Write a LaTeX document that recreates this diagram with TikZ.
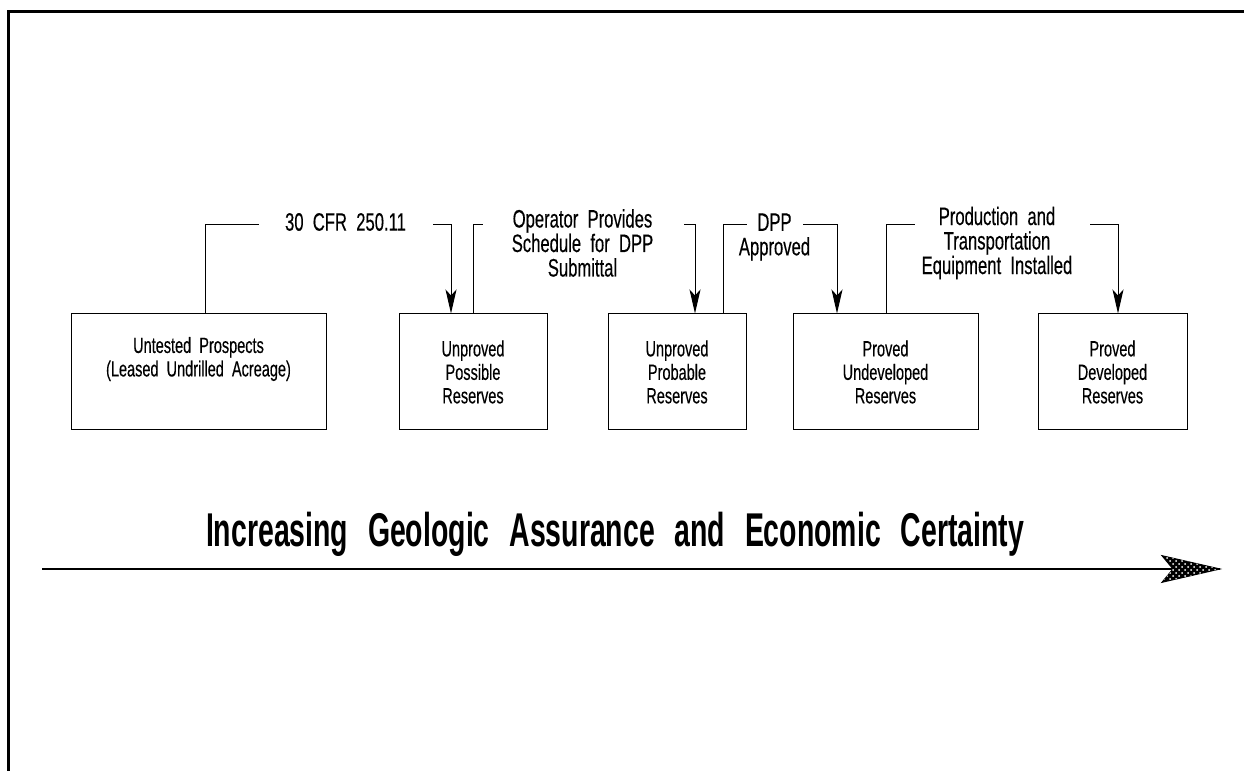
\documentclass[tikz,border=0pt]{standalone}
\usepackage{fontspec}
\setmainfont{Liberation Sans}[FakeStretch=0.66, WordSpace=2, FakeBold=0.3]
\newfontfamily\headfont{Liberation Sans}[FakeStretch=0.6, WordSpace=2.5]
\usetikzlibrary{arrows.meta, patterns}

\begin{document}
\begin{tikzpicture}[x = 50pt, y = 50pt,
	resbox/.style = {draw, line width = 0.5pt, minimum height = 58pt, inner sep = 0pt, align = center, font = \fontsize{11}{11.75}\selectfont},
	lbl/.style = {align = center, inner sep = 0pt, font = \fontsize{12.6}{12.25}\selectfont},
	flow/.style = {line width = 0.5pt, -{Stealth[length = 12pt, width = 5.5pt, inset = 3pt]}}]
		\useasboundingbox (0, 0) rectangle (12.44, 7.71);
		\draw [line width = 1.5pt] (0.085, 0) -- (0.085, 7.595) -- (12.44, 7.595);
		%%%%%%%%%%%%%
		\node [resbox, minimum width = 127.5pt] (untested) at (1.985, 3.99) {Untested Prospects\\(Leased Undrilled Acreage)\\ \strut};
		\node [resbox, minimum width = 74pt] (possible) at (4.73, 3.99) {Unproved\\Possible\\Reserves};
		\node [resbox, minimum width = 69pt] (probable) at (6.77, 3.99) {Unproved\\Probable\\Reserves};
		\node [resbox, minimum width = 92.5pt] (undev) at (8.855, 3.99) {Proved\\Undeveloped\\Reserves};
		\node [resbox, minimum width = 74.5pt] (dev) at (11.125, 3.99) {Proved\\Developed\\Reserves};
		%%%%%%%%%%%%%
		\node [lbl] (cfr) at (3.455, 5.49) {30 CFR 250.11};
		\node [lbl] (schedule) at (5.825, 5.28) {Operator Provides\\Schedule for DPP\\Submittal};
		\node [lbl] (approved) at (7.745, 5.34) {DPP\\Approved};
		\node [lbl] (installed) at (9.97, 5.28) {Production and\\Transportation\\Equipment Installed};
		%%%%%%%%%%%%%
		\coordinate (c1) at (2.05, 5.46); \coordinate (e1) at (2.59, 5.46);
		\coordinate (s2) at (4.33, 5.46); \coordinate (c2) at (4.51, 5.46);
		\coordinate (c3) at (4.73, 5.46); \coordinate (e3) at (4.83, 5.46);
		\coordinate (s4) at (6.84, 5.46); \coordinate (c4) at (6.95, 5.46);
		\coordinate (c5) at (7.23, 5.46); \coordinate (e5) at (7.47, 5.46);
		\coordinate (s6) at (8.03, 5.46); \coordinate (c6) at (8.37, 5.46);
		\coordinate (c7) at (8.86, 5.46); \coordinate (e7) at (9.15, 5.46);
		\coordinate (s8) at (10.90, 5.46); \coordinate (c8) at (11.18, 5.46);
		%%%%%%%%%%%%%
		\draw [line width = 0.5pt] (c1 |- untested.north) -- (c1) -- (e1);
		\draw [flow] (s2) -- (c2) -- (c2 |- possible.north);
		\draw [line width = 0.5pt] (c3 |- possible.north) -- (c3) -- (e3);
		\draw [flow] (s4) -- (c4) -- (c4 |- probable.north);
		\draw [line width = 0.5pt] (c5 |- probable.north) -- (c5) -- (e5);
		\draw [flow] (s6) -- (c6) -- (c6 |- undev.north);
		\draw [line width = 0.5pt] (c7 |- undev.north) -- (c7) -- (e7);
		\draw [flow] (s8) -- (c8) -- (c8 |- dev.north);
		%%%%%%%%%%%%%
		\node [anchor = base, inner sep = 0pt, font = \headfont\bfseries\fontsize{23.7}{28}\selectfont] (certainty) at (6.15, 2.24) {Increasing Geologic Assurance and Economic Certainty};
		\coordinate (a0) at (0.42, 2.02); \coordinate (a1) at (12.20, 2.02);
		\draw [line width = 0.7pt] (a0) -- (a1);
		\filldraw [line width = 0.5pt, fill = black, postaction = {pattern = crosshatch dots, pattern color = white}] (a1) -- ++(-0.58, 0.133) -- ++(0.11, -0.133) -- ++(-0.11, -0.133) -- cycle;
\end{tikzpicture}
\end{document}
